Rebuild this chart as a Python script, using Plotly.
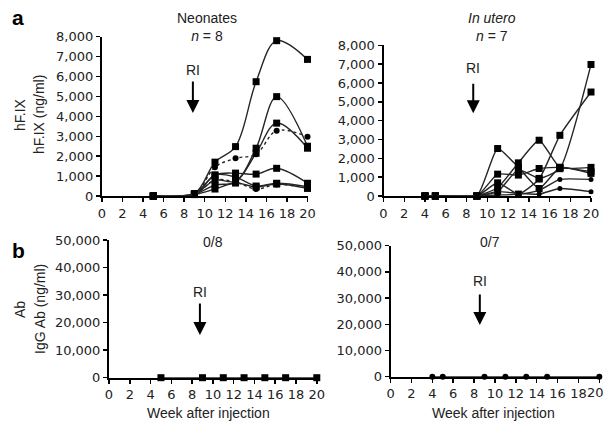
import plotly.graph_objects as go

# ---------------- data ----------------
neo_weeks = [5, 9, 11, 13, 15, 17, 20]
neo_s1 = [0, 120, 1700, 2480, 5740, 7800, 6860]
neo_s2 = [0, 100, 800, 750, 2400, 4990, 2500]
neo_s3 = [0, 90, 550, 700, 2150, 3660, 2400]
neo_d4 = [0, 110, 1450, 1890, 2100, 3280, 2980]
neo_s5 = [0, 100, 1050, 1150, 1100, 1390, 640]
neo_s6 = [0, 80, 1050, 950, 500, 640, 470]
neo_d7 = [0, 90, 800, 700, 350, 580, 400]
neo_s8 = [0, 70, 350, 650, 450, 600, 380]

ute_weeks = [4, 5, 9, 11, 13, 15, 17, 20]
ute_1 = [0, 0, 0, 2520, 1520, 400, 1500, 1200]
ute_2 = [0, 0, 0, 440, 1760, 2960, 1520, 1520]
ute_3 = [0, 0, 0, 700, 100, 900, 3220, 5520]
ute_4 = [0, 0, 0, 230, 1400, 935, 1450, 6980]
ute_5 = [0, 0, 0, 1160, 1110, 1460, 1520, 1300]
ute_6 = [0, 0, 0, 50, 100, 300, 880, 880]
ute_7 = [0, 0, 0, 230, 140, 100, 400, 230]

ab_neo_weeks = [5, 9, 11, 13, 15, 17, 20]
ab_neo_vals = [0, 0, 0, 0, 0, 0, 0]
ab_ute_weeks = [4, 5, 9, 11, 13, 15, 20]
ab_ute_vals = [0, 0, 0, 0, 0, 0, 0]

ri_week = [8.85, 8.65, 8.75, 8.55]
x_ticks = list(range(0, 21, 2))
hf_ticks = list(range(0, 8001, 1000))
ab_ticks = list(range(0, 50001, 10000))

# ---------------- figure ----------------
W, H = 606, 425
def px(x):
    return x / W
def py(y):
    return 1 - y / H

LINE = "#262626"
fig = go.Figure()

def add(xs, ys, xa, ya, dash="solid", sym="square", size=7, smooth=1.0):
    fig.add_trace(go.Scatter(
        x=xs, y=ys, xaxis=xa, yaxis=ya, mode="lines+markers",
        line=dict(color=LINE, width=1.4, dash=dash, shape="spline", smoothing=smooth),
        marker=dict(symbol=sym, size=size, color="black"),
        cliponaxis=False, showlegend=False, hoverinfo="skip"))

for s in [neo_s8, neo_s6, neo_s5, neo_s3, neo_s2, neo_s1]:
    add(neo_weeks, s, "x", "y")
for s in [neo_d7, neo_d4]:
    add(neo_weeks, s, "x", "y", dash="dot", sym="circle", size=6)

for s in [ute_1, ute_2, ute_3, ute_4, ute_5]:
    add(ute_weeks, s, "x2", "y2", smooth=0.5)
for s in [ute_6, ute_7]:
    add(ute_weeks, s, "x2", "y2", sym="circle", size=5, smooth=0.5)

add(ab_neo_weeks, ab_neo_vals, "x3", "y3", size=7)
add(ab_ute_weeks, ab_ute_vals, "x4", "y4", size=6, sym="circle")

TICKFAM = "DejaVu Sans"
tickfont = dict(family=TICKFAM, size=13, color="#222")
axcommon = dict(showline=True, linewidth=2, linecolor="black", ticks="outside",
                ticklen=4, tickwidth=1.5, tickcolor="black", showgrid=False,
                zeroline=False, tickfont=tickfont, fixedrange=True, automargin=False)

def xax(dom, anchor, tv):
    return dict(domain=dom, anchor=anchor, range=[0, 20], tickvals=tv, **axcommon)

def yax(dom, anchor, rng, tv):
    return dict(domain=dom, anchor=anchor, range=rng, tickvals=tv,
                tickformat=",", **axcommon)

fig.update_layout(
    template="none",
    width=W, height=H, margin=dict(l=0, r=0, t=0, b=0, pad=0),
    paper_bgcolor="white", plot_bgcolor="white",
    font=dict(family="Liberation Sans, Arial", size=13, color="#222"),
    xaxis=xax([px(101.9), px(307.5)], "y", x_ticks),
    yaxis=yax([py(196), py(36.7)], "x", [0, 8000], hf_ticks),
    xaxis2=xax([px(383.5), px(591)], "y2", x_ticks),
    yaxis2=yax([py(196), py(45.3)], "x2", [0, 8000], hf_ticks),
    xaxis3=xax([px(109), px(316.8)], "y3", x_ticks),
    yaxis3=yax([py(377.7), py(240)], "x3", [0, 50000], ab_ticks),
    xaxis4=xax([px(390.6), px(599.3)], "y4", x_ticks),
    yaxis4=yax([py(376.7), py(245.7)], "x4", [0, 50000], ab_ticks),
)

ann = []
def txt(x, y, s, size=14, angle=0, bold=False):
    ann.append(dict(x=px(x), y=py(y), xref="paper", yref="paper", text=s,
                    showarrow=False, textangle=angle, xanchor="center", yanchor="middle",
                    font=dict(family="Liberation Sans, Arial", size=size,
                              color="black" if bold else "#222")))

txt(18, 17, "<b>a</b>", size=21, bold=True)
txt(18, 250, "<b>b</b>", size=21, bold=True)
txt(207, 27, "Neonates<br><i>n</i> = 8", 14)
txt(492, 27, "<i>In utero</i><br><i>n</i> = 7", 14)
txt(213, 242, "0/8", 14)
txt(490, 242, "0/7", 14)
txt(20, 114, "hF.IX", 14, -90)
txt(39, 115, "hF.IX (ng/ml)", 14, -90)
txt(20, 309, "Ab", 14, -90)
txt(40, 309, "IgG Ab (ng/ml)", 14, -90)
txt(208, 413, "Week after injection", 14)
txt(493, 413, "Week after injection", 14)

# last tick label of the bottom-right axis sits at the page edge: keep it inside the page
ann.append(dict(x=1, y=py(392), xref="paper", yref="paper", text=str(x_ticks[-1]),
                showarrow=False, xanchor="right", yanchor="middle",
                font=dict(family=TICKFAM, size=13, color="#222")))

# RI arrows (data coords)
ri = [("x", "y", ri_week[0], 6330, 4170, -33),
      ("x2", "y2", ri_week[1], 6770, 4390, -31),
      ("x3", "y3", ri_week[2], 31100, 15500, -33),
      ("x4", "y4", ri_week[3], 36500, 19700, -32)]
for xa, ya, xw, ytxt, ytip, ay in ri:
    ann.append(dict(x=xw, y=ytxt, xref=xa, yref=ya, text="RI", showarrow=False,
                    font=dict(family="Liberation Sans, Arial", size=14, color="#222")))
    ann.append(dict(x=xw, y=ytip, xref=xa, yref=ya, text="", showarrow=True,
                    ax=0, ay=ay, arrowhead=2, arrowsize=1.3, arrowwidth=2,
                    arrowcolor="black"))

fig.update_layout(annotations=ann)
fig.write_html("out.html", config={"displayModeBar": False, "staticPlot": True},
               post_script="document.body.style.margin='0px';document.body.style.overflow='hidden';")
